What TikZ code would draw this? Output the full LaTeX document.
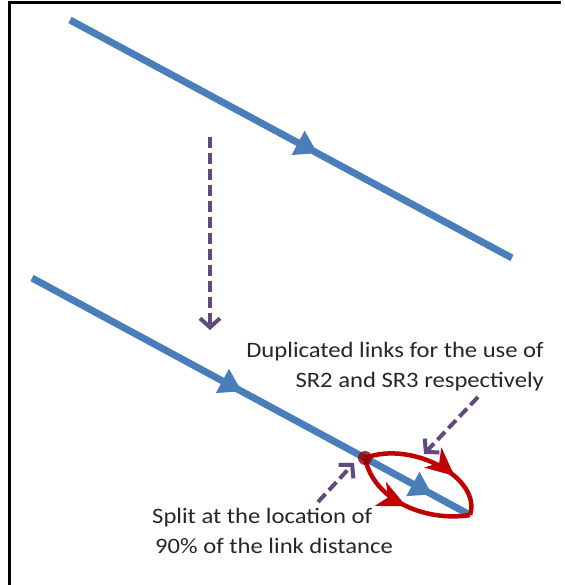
\documentclass[tikz,border=0pt]{standalone}
\usepackage{fontspec}
\setmainfont{Carlito}[FakeStretch=1.12]
\usetikzlibrary{arrows.meta,decorations.markings}

\definecolor{linkblue}{RGB}{74,126,187}
\definecolor{flowpurple}{RGB}{96,74,123}
\definecolor{duplred}{RGB}{192,0,0}
\definecolor{labeltext}{RGB}{38,38,38}

\tikzset{
  link/.style={draw=linkblue, line width=7pt, line cap=butt},
  midarrow/.style={postaction={decorate},
    decoration={markings, mark=at position #1 with
      {\arrow[linkblue]{Triangle[length=22pt,width=26pt]}}}},
  hint/.style={draw=flowpurple, line width=4pt,
    dash pattern=on 11pt off 5pt,
    -{Straight Barb[length=9pt,width=20pt,line width=4pt]}},
  dupl/.style={draw=duplred, line width=4.5pt},
  duplarrow/.style={postaction={decorate},
    decoration={markings, mark=at position #1 with
      {\arrow[duplred]{Stealth[length=28pt,width=26pt,inset=8pt]}}}},
  note/.style={text=labeltext, font=\fontsize{22}{29.5}\selectfont, inner sep=0pt},
}

\begin{document}
\begin{tikzpicture}[x=1pt,y=-1pt]
  \useasboundingbox (0,0) rectangle (564,585);

  % frame edges
  \draw[line width=2.5pt] (9.5,585) -- (9.5,2.5) -- (561,2.5);

  % original link
  \coordinate (a1) at (70,20);
  \coordinate (a2) at (512,258);
  \draw[link, midarrow=0.56] (a1) -- (a2);

  % link split near its end
  \coordinate (b1) at (32,278);
  \coordinate (sp) at (365,458);
  \coordinate (b2) at (470,515);
  \draw[link, midarrow=0.63] (b1) -- (sp);
  \draw[link, midarrow=0.64] (sp) -- (b2);

  % transformation step
  \coordinate (t1) at (210,137);
  \coordinate (t2) at (210,330);
  \draw[hint] (t1) -- (t2);

  % duplicated links
  \draw[dupl, duplarrow=0.68] (sp) .. controls (412,440) and (482,478) .. (b2);
  \draw[dupl, duplarrow=0.50] (sp) .. controls (374,502) and (428,522) .. (b2);
  \fill[duplred!75!black, opacity=0.8] (sp) circle (7pt);

  % labels
  \node[note, align=right, anchor=base east] (dup) at (544,387)
    {Duplicated links for the use of\\SR2 and SR3 respectively};
  \node[note, align=left, anchor=base west] (split) at (152,553)
    {Split at the location of\\\hspace*{3pt}90\% of the link distance};

  \coordinate (p1) at (478,397);
  \coordinate (p2) at (424,454);
  \draw[hint] (p1) -- (p2);
  \coordinate (q1) at (318,502);
  \coordinate (q2) at (354,463);
  \draw[hint] (q1) -- (q2);
\end{tikzpicture}
\end{document}
